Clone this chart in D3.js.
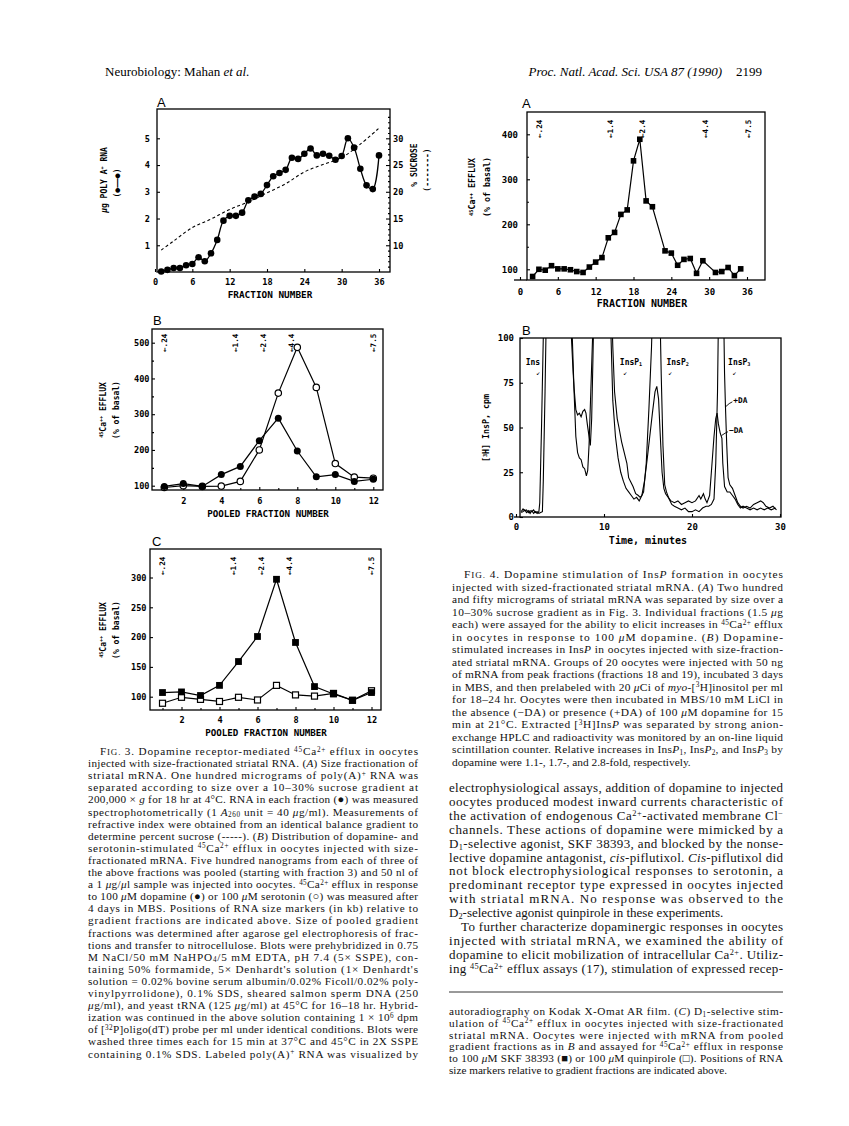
<!DOCTYPE html>
<html><head><meta charset="utf-8">
<script src="https://cdn.jsdelivr.net/npm/d3@7/dist/d3.min.js"></script>
<style>html,body{margin:0;padding:0;background:#fff;}svg{display:block}</style>
</head><body>
<svg id="page" width="849" height="1126" xmlns="http://www.w3.org/2000/svg"></svg>
<script>
// ================= DATA =================
// Fig 3A
const fig3aFraction=[1,2,3,4,5,6,7,8,9,10,11,12,13,14,15,16,17,18,19,20,21,22,23,24,25,26,27,28,29,30,31,32,33,34,35,36];
const fig3aRnaUg=[0.02,0.08,0.15,0.15,0.25,0.3,0.55,0.4,0.7,1.2,1.92,2.1,2.1,2.22,2.68,2.82,2.92,3.25,3.58,3.7,3.82,4.27,4.23,4.42,4.62,4.36,4.42,4.35,4.2,4.34,5.0,4.65,3.86,3.24,3.1,4.36];
const fig3aSucroseFraction=[1,3,6,9,12,15,18,21,24,27,30,33,36];
const fig3aSucrosePct=[9.1,10.8,13.3,14.9,16.7,18.1,19.8,21.5,23.7,25.1,26.4,28.9,31.9];
const fig3aXTicks=[0,6,12,18,24,30,36];
const fig3aLeftTicks=[1,2,3,4,5];
const fig3aRightTicks=[10,15,20,25,30];
// Fig 3B
const pooledFraction=[1,2,3,4,5,6,7,8,9,10,11,12];
const fig3bDopamine=[98,106,98,131,154,226,289,197,125,131,112,118];
const fig3bSerotonin=[95,100,98,99,112,200,359,487,375,162,124,121];
const fig3bYTicks=[100,200,300,400,500];
const pooledXTicks=[2,4,6,8,10,12];
// Fig 3C
const fig3cSkf=[107,108,102,119,159,201,297,191,117,104.5,94,107];
const fig3cQuinpirole=[89,99,95.5,92,99,94.5,119,103,101,105.5,94,110];
const fig3cYTicks=[100,150,200,250,300];
// RNA size markers (kb)
const sizeMarkerLabels=["←.24","←1.4","←2.4","←4.4","←7.5"];
const sizeMarkerPooled=[1.0,4.75,6.2,7.7,12.0];
const sizeMarkerFraction=[3.1,14.4,19.4,29.4,36.2];
// Fig 4A
const fig4aFraction=[2,3,4,5,6,7,8,9,10,11,12,13,14,15,16,17,18,19,20,21,23,24,25,26,27,28,29,31,32,33,34,35];
const fig4aEfflux=[84,100,98,108,101,101,99,95,93,105,116,126,170,182,222,232,341,389,252,239,141,136,109,122,124,91,119,93,95,104,86,101];
const fig4aXTicks=[0,6,12,18,24,30,36];
const fig4aYTicks=[100,200,300,400];
// Fig 4B  (HPLC traces, cpm)
const plusDaTime=[0.6,0.8,1.0,1.2,1.4,1.6,1.8,2.0,2.2,2.4,2.6,2.8,3.0,3.1,3.3,3.5,6.0,6.3,6.5,6.6,6.8,7.0,7.2,7.4,7.6,7.8,7.95,8.1,8.3,8.45,8.6,8.75,8.9,10.8,11.0,11.2,11.5,11.7,12.0,12.3,12.6,12.8,13.0,13.3,13.6,13.9,14.1,14.3,14.5,14.8,15.1,15.4,15.6,16.3,16.5,16.7,16.9,17.1,17.4,17.7,18.0,18.4,18.8,19.2,19.6,20.0,20.4,20.8,21.2,21.6,21.9,22.2,22.5,22.7,22.9,23.05,23.55,23.7,23.8,23.95,24.1,24.3,24.6,24.9,25.2,25.5,25.8,26.2,26.6,27.0,27.4,27.8,28.1,28.4,28.8,29.2,29.6];
const plusDaCpm=[3,4.5,3.5,4,2.5,3.5,3,4,2.5,3,2,2.5,3,20,70,130,130,100,80,72,60,57,58,56,59,60,58,52,45,40,55,90,130,130,95,70,55,50,42,36,30,22,20,17,13,12,11,12,14,30,60,95,130,130,80,40,18,14,10,7,6,5,4,5,3,3,4,3,5,6,6,7,10,30,70,130,130,80,62,40,22,18,16,12,8,6,5,6,5,7,8,9,8,6,5,6,4];
const minusDaTime=[0.6,0.8,1.0,1.2,1.4,1.6,1.8,2.0,2.2,2.4,2.6,2.7,2.9,3.1,3.3,6.2,6.4,6.6,6.8,7.0,7.2,7.4,7.6,7.8,8.0,8.15,8.3,8.5,8.7,8.9,10.6,10.8,11.0,11.3,11.6,11.9,12.2,12.5,12.8,13.1,13.4,13.7,14.0,14.3,14.6,14.9,15.2,15.5,15.8,16.0,16.2,16.4,16.6,16.8,17.0,17.3,17.6,18.0,18.4,18.8,19.2,19.6,20.0,20.4,20.8,21.0,21.3,21.5,21.7,22.0,22.2,22.5,22.7,22.85,23.0,23.2,23.4,23.5,23.7,24.0,24.3,24.6,24.9,25.2,25.5,25.8,26.2,26.6,27.0,27.4,27.8,28.2,28.6,29.0,29.5];
const minusDaCpm=[2.5,3,4,2.5,3.5,2,3.5,2,3,2,3,8,50,100,130,130,100,70,45,36,33,32,28,27,23,26,40,70,100,130,130,100,65,45,33,25,20,16,14,12,10,11,9,12,20,32,45,58,70,73,66,45,25,16,13,11,9,8,9,7,8,9,8,9,12,10,13,10,8,12,25,45,55,58,52,47,44,30,17,14,14,12,10,7,5,6,5,4,5,4,5,4,5,4,5];
const fig4bXTicks=[0,10,20,30];
const fig4bYTicks=[0,25,50,75,100];
const peakLabels=["Ins","InsP{_1}","InsP{_2}","InsP{_3}"];
const peakLabelTime=[1.1,11.8,17.1,24.1];
const peakArrowTime=[2.3,12.2,17.3,24.6];
const traceLabels=["+DA","−DA"];
const traceLabelTime=[24.7,24.2];
const traceLabelCpm=[63.5,46.8];
const traceLeaderTime=[23.8,23.35];
const traceLeaderCpm=[61.5,45.5];

// ================= TEXT =================
const capFig3=[
"F{cIG.} 3.  Dopamine receptor-mediated {^45}Ca{^2+} efflux in oocytes",
"injected with size-fractionated striatal RNA. ({/A}) Size fractionation of",
"striatal mRNA. One hundred micrograms of poly(A){^+} RNA was",
"separated according to size over a 10–30% sucrose gradient at",
"200,000 × {/g} for 18 hr at 4°C. RNA in each fraction (●) was measured",
"spectrophotometrically (1 {/A}{_260} unit = 40 {/μ}g/ml). Measurements of",
"refractive index were obtained from an identical balance gradient to",
"determine percent sucrose (-----). ({/B}) Distribution of dopamine- and",
"serotonin-stimulated {^45}Ca{^2+} efflux in oocytes injected with size-",
"fractionated mRNA. Five hundred nanograms from each of three of",
"the above fractions was pooled (starting with fraction 3) and 50 nl of",
"a 1 {/μ}g/{/μ}l sample was injected into oocytes. {^45}Ca{^2+} efflux in response",
"to 100 {/μ}M dopamine (●) or 100 {/μ}M serotonin (○) was measured after",
"4 days in MBS. Positions of RNA size markers (in kb) relative to",
"gradient fractions are indicated above. Size of pooled gradient",
"fractions was determined after agarose gel electrophoresis of frac-",
"tions and transfer to nitrocellulose. Blots were prehybridized in 0.75",
"M NaCl/50 mM NaHPO{_4}/5 mM EDTA, pH 7.4 (5× SSPE), con-",
"taining 50% formamide, 5× Denhardt's solution (1× Denhardt's",
"solution = 0.02% bovine serum albumin/0.02% Ficoll/0.02% poly-",
"vinylpyrrolidone), 0.1% SDS, sheared salmon sperm DNA (250",
"{/μ}g/ml), and yeast tRNA (125 {/μ}g/ml) at 45°C for 16–18 hr. Hybrid-",
"ization was continued in the above solution containing 1 × 10{^6} dpm",
"of [{^32}P]oligo(dT) probe per ml under identical conditions. Blots were",
"washed three times each for 15 min at 37°C and 45°C in 2X SSPE",
"containing 0.1% SDS. Labeled poly(A){^+} RNA was visualized by"];
const capFig4=[
"F{cIG.} 4.  Dopamine stimulation of Ins{/P} formation in oocytes",
"injected with sized-fractionated striatal mRNA. ({/A}) Two hundred",
"and fifty micrograms of striatal mRNA was separated by size over a",
"10–30% sucrose gradient as in Fig. 3. Individual fractions (1.5 {/μ}g",
"each) were assayed for the ability to elicit increases in {^45}Ca{^2+} efflux",
"in oocytes in response to 100 {/μ}M dopamine. ({/B}) Dopamine-",
"stimulated increases in Ins{/P} in oocytes injected with size-fraction-",
"ated striatal mRNA. Groups of 20 oocytes were injected with 50 ng",
"of mRNA from peak fractions (fractions 18 and 19), incubated 3 days",
"in MBS, and then prelabeled with 20 {/μ}Ci of {/myo}-[{^3}H]inositol per ml",
"for 18–24 hr. Oocytes were then incubated in MBS/10 mM LiCl in",
"the absence (−DA) or presence (+DA) of 100 {/μ}M dopamine for 15",
"min at 21°C. Extracted [{^3}H]Ins{/P} was separated by strong anion-",
"exchange HPLC and radioactivity was monitored by an on-line liquid",
"scintillation counter. Relative increases in Ins{/P}{_1}, Ins{/P}{_2}, and Ins{/P}{_3} by",
"dopamine were 1.1-, 1.7-, and 2.8-fold, respectively."];
const bodyText=[
"electrophysiological assays, addition of dopamine to injected",
"oocytes produced modest inward currents characteristic of",
"the activation of endogenous Ca{^2+}-activated membrane Cl{^−}",
"channels. These actions of dopamine were mimicked by a",
"D{_1}-selective agonist, SKF 38393, and blocked by the nonse-",
"lective dopamine antagonist, {/cis}-piflutixol. {/Cis}-piflutixol did",
"not block electrophysiological responses to serotonin, a",
"predominant receptor type expressed in oocytes injected",
"with striatal mRNA. No response was observed to the",
"D{_2}-selective agonist quinpirole in these experiments.",
"To further characterize dopaminergic responses in oocytes",
"injected with striatal mRNA, we examined the ability of",
"dopamine to elicit mobilization of intracellular Ca{^2+}. Utiliz-",
"ing {^45}Ca{^2+} efflux assays (17), stimulation of expressed recep-"];
const capFig3End=[
"autoradiography on Kodak X-Omat AR film. ({/C}) D{_1}-selective stim-",
"ulation of {^45}Ca{^2+} efflux in oocytes injected with size-fractionated",
"striatal mRNA. Oocytes were injected with mRNA from pooled",
"gradient fractions as in {/B} and assayed for {^45}Ca{^2+} efflux in response",
"to 100 {/μ}M SKF 38393 (■) or 100 {/μ}M quinpirole (□). Positions of RNA",
"size markers relative to gradient fractions are indicated above."];

// ================= DRAWING =================
const svg=d3.select("#page");
svg.append("rect").attr("width",849).attr("height",1126).attr("fill","#fff");
const MONO="'DejaVu Sans Mono','Liberation Mono',monospace";
const SERIF="'Liberation Serif','Times New Roman',serif";
const SANS="'Liberation Sans',Arial,sans-serif";

function rich(t,str,fs){
  const re=/\{([\^_\/c])([^}]*)\}/g; let last=0,m,shift=0;
  const add=(txt,kind)=>{
    const sp=t.append("tspan").text(txt);
    let ns=0;
    if(kind==="^"){ns=-fs*0.3; sp.attr("font-size",fs*0.64);}
    else if(kind==="_"){ns=fs*0.16; sp.attr("font-size",fs*0.64);}
    else if(kind==="/"){sp.attr("font-style","italic");}
    else if(kind==="c"){sp.attr("font-size",fs*0.8);}
    if(ns!==shift){sp.attr("dy",ns-shift); shift=ns;}
  };
  while((m=re.exec(str))){ if(m.index>last) add(str.slice(last,m.index),""); add(m[2],m[1]); last=re.lastIndex;}
  if(last<str.length) add(str.slice(last),"");
  return t;
}
function drawLines(lines,o){
  lines.forEach((s,i)=>{
    const ind=(o.indent||[]).includes(i)?o.indentPx:0;
    const t=svg.append("text").attr("x",o.x+ind).attr("y",o.y0+i*o.dy)
      .attr("font-family",SERIF).attr("font-size",o.fs).attr("fill","#111");
    rich(t,s,o.fs);
    if(!(o.nojust||[]).includes(i)) t.attr("textLength",o.width-ind).attr("lengthAdjust","spacing");
  });
}
function label(x,y,str,fs,opts={}){
  const t=svg.append("text").attr("x",x).attr("y",y).attr("font-family",opts.family||MONO)
   .attr("font-weight",opts.weight||"bold").attr("font-size",fs).attr("fill","#000")
   .attr("text-anchor",opts.anchor||"start");
  rich(t,str,fs); return t;
}
function vlabel(cx,cy,str,fs,opts={}){
  const t=svg.append("text").attr("transform",`translate(${cx+fs*0.36},${cy}) rotate(-90)`)
   .attr("font-family",opts.family||MONO).attr("font-weight",opts.weight||"bold").attr("font-size",fs)
   .attr("fill","#000").attr("text-anchor",opts.anchor||"middle");
  rich(t,str,fs); return t;
}
function frame(p){
  svg.append("rect").attr("x",p.l).attr("y",p.t).attr("width",p.r-p.l).attr("height",p.b-p.t)
   .attr("fill","none").attr("stroke","#000").attr("stroke-width",1.3);
}
function axis(gen,tr,fs,orient,off){
  const g=svg.append("g").attr("transform",tr).call(gen);
  g.select(".domain").remove();
  g.selectAll(".tick line").attr("stroke","#000").attr("stroke-width",1.1);
  g.selectAll(".tick text").attr("font-family",MONO).attr("font-weight","bold").attr("font-size",fs).attr("fill","#000");
  if(orient==="bottom") g.selectAll(".tick text").attr("y",off).attr("dy",null);
  return g;
}

// ---------- Header ----------
label(105,76,"Neurobiology: Mahan {/et al.}",13,{family:SERIF,weight:"normal"});
label(722,76,"{/Proc. Natl. Acad. Sci. USA} {/87} {/(1990)}",13,{family:SERIF,weight:"normal",anchor:"end"});
label(762,76,"2199",13,{family:SERIF,weight:"normal",anchor:"end"});

// ---------- Fig 3A ----------
{
 const P={l:157,r:390,t:109,b:272};
 const x=d3.scaleLinear().domain([0,36]).range([155,379]);
 const yL=d3.scaleLinear().domain([0,5]).range([272,138.3]);
 const yR=d3.scaleLinear().domain([5,30]).range([272,138.3]);
 frame(P);
 axis(d3.axisBottom(x).tickValues(fig3aXTicks).tickSizeInner(-3).tickFormat(d3.format("d")),`translate(0,${P.b})`,8.6,"bottom",13);
 axis(d3.axisLeft(yL).tickValues(fig3aLeftTicks).tickSizeInner(-3).tickPadding(7).tickFormat(d3.format("d")),`translate(${P.l},0)`,8.6);
 axis(d3.axisRight(yR).tickValues(fig3aRightTicks).tickSizeInner(-4).tickPadding(3).tickFormat(d3.format("d")),`translate(${P.r},0)`,8.6);
 axis(d3.axisRight(yR).tickValues(d3.range(6,35).filter(v=>v%5)).tickSizeInner(-2).tickFormat(""),`translate(${P.r},0)`,8);
 label(157,107,"A",13,{family:SANS,weight:"normal"});
 label(270,298,"FRACTION NUMBER",9.4,{anchor:"middle"});
 vlabel(104,180,"{/μ}g POLY A{^+} RNA",8);
 vlabel(117,183,"(●——●)",8);
 vlabel(414,165,"% SUCROSE",8);
 vlabel(427,170,"(-------)",8);
 const suc=fig3aSucroseFraction.map((f,i)=>[f,fig3aSucrosePct[i]]);
 svg.append("path").datum(suc).attr("fill","none").attr("stroke","#000").attr("stroke-width",1.1)
  .attr("stroke-dasharray","3,2.5")
  .attr("d",d3.line().x(d=>x(d[0])).y(d=>yR(d[1])).curve(d3.curveCatmullRom.alpha(0.5)));
 const rna=fig3aFraction.map((f,i)=>[f,fig3aRnaUg[i]]);
 svg.append("path").datum(rna).attr("fill","none").attr("stroke","#000").attr("stroke-width",1.3)
  .attr("d",d3.line().x(d=>x(d[0])).y(d=>yL(d[1])).curve(d3.curveCatmullRom.alpha(0.5)));
 svg.append("g").selectAll("circle").data(rna).join("circle")
  .attr("cx",d=>x(d[0])).attr("cy",d=>yL(d[1])).attr("r",3.3).attr("fill","#000");
}

// ---------- size-marker helper ----------
function markers(x,yBottom,positions){
  positions.forEach((p,i)=>{
    svg.append("text").attr("transform",`translate(${x(p)+2.6},${yBottom}) rotate(-90)`)
     .attr("font-family",MONO).attr("font-weight","bold").attr("font-size",7.6).attr("fill","#000")
     .text(sizeMarkerLabels[i]);
  });
}
// ---------- Fig 3B ----------
{
 const P={l:152,r:383,t:329,b:490};
 const x=d3.scaleLinear().domain([1,12]).range([164.3,373.3]);
 const y=d3.scaleLinear().domain([100,500]).range([485.7,342.7]);
 frame(P);
 axis(d3.axisBottom(x).tickValues(pooledXTicks).tickSizeInner(-3).tickFormat(d3.format("d")),`translate(0,${P.b})`,8.6,"bottom",14);
 axis(d3.axisBottom(x).tickValues([1,3,5,7,9,11]).tickSizeInner(-2).tickFormat(""),`translate(0,${P.b})`,8,"bottom",14);
 axis(d3.axisLeft(y).tickValues(fig3bYTicks).tickSizeInner(-3).tickPadding(2.5).tickFormat(d3.format("d")),`translate(${P.l},0)`,8.6);
 axis(d3.axisLeft(y).tickValues([150,250,350,450]).tickSizeInner(-2).tickFormat(""),`translate(${P.l},0)`,8);
 label(153,325,"B",13,{family:SANS,weight:"normal"});
 label(268,517,"POOLED FRACTION NUMBER",9.2,{anchor:"middle"});
 vlabel(103,410,"{^45}Ca{^++} EFFLUX",8);
 vlabel(116,410,"(% of basal)",8);
 markers(x,352,sizeMarkerPooled);
 const ln=d3.line().x(d=>x(d[0])).y(d=>y(d[1]));
 const ser=pooledFraction.map((f,i)=>[f,fig3bSerotonin[i]]);
 const dop=pooledFraction.map((f,i)=>[f,fig3bDopamine[i]]);
 svg.append("path").datum(ser).attr("fill","none").attr("stroke","#000").attr("stroke-width",1.2).attr("d",ln);
 svg.append("path").datum(dop).attr("fill","none").attr("stroke","#000").attr("stroke-width",1.2).attr("d",ln);
 svg.append("g").selectAll("circle").data(ser).join("circle").attr("cx",d=>x(d[0])).attr("cy",d=>y(d[1]))
  .attr("r",3.2).attr("fill","#fff").attr("stroke","#000").attr("stroke-width",1.2);
 svg.append("g").selectAll("circle").data(dop).join("circle").attr("cx",d=>x(d[0])).attr("cy",d=>y(d[1]))
  .attr("r",3.5).attr("fill","#000");
}
// ---------- Fig 3C ----------
{
 const P={l:150,r:381,t:549,b:710};
 const x=d3.scaleLinear().domain([1,12]).range([162.5,371.5]);
 const y=d3.scaleLinear().domain([100,300]).range([696.7,577.5]);
 frame(P);
 axis(d3.axisBottom(x).tickValues(pooledXTicks).tickSizeInner(-3).tickFormat(d3.format("d")),`translate(0,${P.b})`,8.6,"bottom",13);
 axis(d3.axisBottom(x).tickValues([1,3,5,7,9,11]).tickSizeInner(-2).tickFormat(""),`translate(0,${P.b})`,8,"bottom",13);
 axis(d3.axisLeft(y).tickValues(fig3cYTicks).tickSizeInner(-3).tickPadding(3.5).tickFormat(d3.format("d")),`translate(${P.l},0)`,8.6);
 label(152,546,"C",13,{family:SANS,weight:"normal"});
 label(266,735.5,"POOLED FRACTION NUMBER",9.2,{anchor:"middle"});
 vlabel(103,630,"{^45}Ca{^++} EFFLUX",8);
 vlabel(116,630,"(% of basal)",8);
 markers(x,575,sizeMarkerPooled);
 const ln=d3.line().x(d=>x(d[0])).y(d=>y(d[1]));
 const q=pooledFraction.map((f,i)=>[f,fig3cQuinpirole[i]]);
 const s=pooledFraction.map((f,i)=>[f,fig3cSkf[i]]);
 svg.append("path").datum(q).attr("fill","none").attr("stroke","#000").attr("stroke-width",1.2).attr("d",ln);
 svg.append("path").datum(s).attr("fill","none").attr("stroke","#000").attr("stroke-width",1.2).attr("d",ln);
 svg.append("g").selectAll("rect").data(q).join("rect").attr("x",d=>x(d[0])-3).attr("y",d=>y(d[1])-3)
  .attr("width",6).attr("height",6).attr("fill","#fff").attr("stroke","#000").attr("stroke-width",1.2);
 svg.append("g").selectAll("rect").data(s).join("rect").attr("x",d=>x(d[0])-3.4).attr("y",d=>y(d[1])-3.4)
  .attr("width",6.8).attr("height",6.8).attr("fill","#000");
}
// ---------- Fig 4A ----------
{
 const P={l:527,r:765,t:112,b:280};
 const x=d3.scaleLinear().domain([0,36]).range([520,747]);
 const y=d3.scaleLinear().domain([100,400]).range([269.3,134.3]);
 frame(P);
 svg.append("line").attr("x1",514).attr("x2",P.l).attr("y1",P.b).attr("y2",P.b).attr("stroke","#000").attr("stroke-width",1.3);
 axis(d3.axisBottom(x).tickValues(fig4aXTicks).tickSizeInner(-3).tickFormat(d3.format("d")),`translate(0,${P.b})`,9,"bottom",15);
 axis(d3.axisLeft(y).tickValues(fig4aYTicks).tickSizeInner(-3).tickPadding(9).tickFormat(d3.format("d")),`translate(${P.l},0)`,9);
 axis(d3.axisLeft(y).tickValues([150,250,350]).tickSizeInner(-2).tickFormat(""),`translate(${P.l},0)`,8);
 label(522,108,"A",13,{family:SANS,weight:"normal"});
 label(642,306.7,"FRACTION NUMBER",10,{anchor:"middle"});
 vlabel(472,187,"{^45}Ca{^++} EFFLUX",8.3);
 vlabel(487.5,187,"(% of basal)",8.3);
 markers(x,138,sizeMarkerFraction);
 const d=fig4aFraction.map((f,i)=>[f,fig4aEfflux[i]]);
 svg.append("path").datum(d).attr("fill","none").attr("stroke","#000").attr("stroke-width",1.2)
  .attr("d",d3.line().x(v=>x(v[0])).y(v=>y(v[1])));
 svg.append("g").selectAll("rect").data(d).join("rect").attr("x",v=>x(v[0])-2.8).attr("y",v=>y(v[1])-2.8)
  .attr("width",5.6).attr("height",5.6).attr("fill","#000");
}
// ---------- Fig 4B ----------
{
 const P={l:520,r:781,t:338,b:517};
 const x=d3.scaleLinear().domain([0,30]).range([516,780]);
 const y=d3.scaleLinear().domain([0,100]).range([517,338]);
 svg.append("defs").append("clipPath").attr("id","clip4b").append("rect")
  .attr("x",P.l).attr("y",P.t).attr("width",P.r-P.l).attr("height",P.b-P.t);
 frame(P);
 svg.append("line").attr("x1",514).attr("x2",P.l).attr("y1",P.b).attr("y2",P.b).attr("stroke","#000").attr("stroke-width",1.3);
 axis(d3.axisBottom(x).tickValues(fig4bXTicks).tickSizeInner(-3).tickFormat(d3.format("d")),`translate(0,${P.b})`,9,"bottom",13);
 axis(d3.axisLeft(y).tickValues(fig4bYTicks).tickSizeInner(-3).tickPadding(6).tickFormat(d3.format("d")),`translate(${P.l},0)`,9);
 label(522,335,"B",13,{family:SANS,weight:"normal"});
 label(648,544,"Time, minutes",10,{anchor:"middle"});
 vlabel(486,428,"[{^3}H] InsP, cpm",8.3);
 const ln=d3.line().x(v=>x(v[0])).y(v=>y(v[1]));
 const g=svg.append("g").attr("clip-path","url(#clip4b)");
 g.append("path").datum(plusDaTime.map((t,i)=>[t,plusDaCpm[i]])).attr("fill","none").attr("stroke","#000").attr("stroke-width",1.1).attr("d",ln);
 g.append("path").datum(minusDaTime.map((t,i)=>[t,minusDaCpm[i]])).attr("fill","none").attr("stroke","#000").attr("stroke-width",1.1).attr("d",ln);
 peakLabels.forEach((s,i)=>{
   label(x(peakLabelTime[i]),y(85),s,8);
   label(x(peakArrowTime[i]),y(79.5),"↙",6.5,{weight:"normal"});
 });
 traceLabels.forEach((s,i)=>{
   label(x(traceLabelTime[i]),y(traceLabelCpm[i]),s,7.8);
   svg.append("path").attr("fill","none").attr("stroke","#000").attr("stroke-width",0.9)
    .attr("d",`M${x(traceLabelTime[i])-1},${y(traceLabelCpm[i])-1.5} Q${x(traceLeaderTime[i])+4},${y(traceLabelCpm[i])-0.5} ${x(traceLeaderTime[i])},${y(traceLeaderCpm[i])}`);
 });
}

// ---------- Text blocks ----------
drawLines(capFig3,{x:88,width:330,y0:755,dy:12.1,fs:11.2,indent:[0],indentPx:12});
drawLines(capFig4,{x:452,width:331,y0:578,dy:12.5,fs:11.4,indent:[0],indentPx:12,nojust:[15]});
drawLines(bodyText,{x:449,width:334,y0:792,dy:13.9,fs:13.0,indent:[10],indentPx:12,nojust:[9]});
svg.append("line").attr("x1",449).attr("x2",783).attr("y1",992).attr("y2",992).attr("stroke","#000").attr("stroke-width",0.8);
drawLines(capFig3End,{x:449,width:334,y0:1015,dy:11.8,fs:11.2,nojust:[5]});
</script>
</body></html>
